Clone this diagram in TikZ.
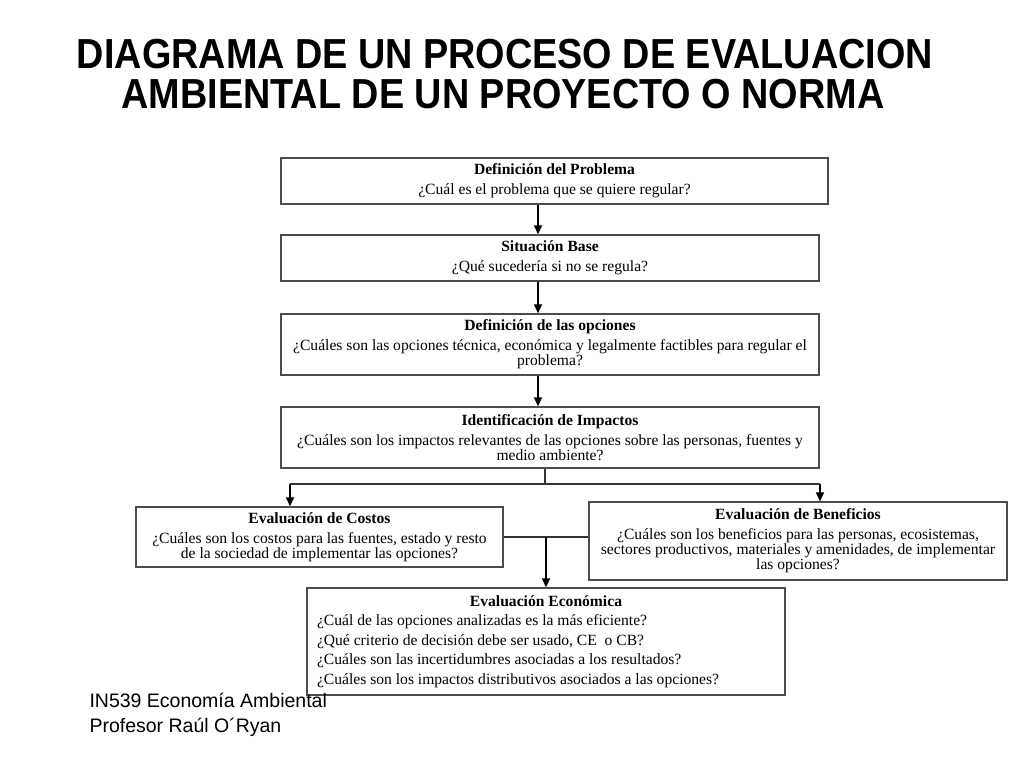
\documentclass[tikz,border=0pt]{standalone}
\usepackage{fontspec}
\setmainfont{Liberation Serif}
\newfontfamily\titlefont[FakeStretch=0.9]{Liberation Sans}
\newfontfamily\footfont{Liberation Sans}
\usetikzlibrary{arrows.meta}

\begin{document}
\begin{tikzpicture}[x=1pt,y=-1pt,
    box/.style={draw=black!70,line width=1.3pt,align=center,inner sep=0pt,
        font=\fontsize{15.6}{15}\selectfont},
    arr/.style={-{Triangle[width=8pt,length=9pt]},line width=1.3pt},
    link/.style={line width=1.1pt,draw=black!80}]
\useasboundingbox (0,0) rectangle (1024,768);

% title
\node[anchor=base,font=\titlefont\bfseries\fontsize{42}{42}\selectfont] (tit1) at (505,68)
    {DIAGRAMA DE UN PROCESO DE EVALUACION};
\node[anchor=base,font=\titlefont\bfseries\fontsize{42}{42}\selectfont] (tit2) at (503,108)
    {AMBIENTAL DE UN PROYECTO O NORMA};

% boxes
\node[box,minimum width=547,minimum height=46] (defprob) at (554.5,181)
    {\textbf{Definición del Problema}\\[5pt]¿Cuál es el problema que se quiere regular?};
\node[box,minimum width=538,minimum height=46] (sitbase) at (550,258)
    {\textbf{Situación Base}\\[5pt]¿Qué sucedería si no se regula?};
\node[box,minimum width=538,minimum height=61] (defopc) at (550,344.5)
    {\textbf{Definición de las opciones}\\[5pt]¿Cuáles son las opciones técnica, económica y legalmente factibles para regular el\\problema?};
\node[box,minimum width=538,minimum height=61] (identimp) at (550,437.5)
    {\textbf{Identificación de Impactos}\\[5pt]¿Cuáles son los impactos relevantes de las opciones sobre las personas, fuentes y\\medio ambiente?};
\node[box,minimum width=367,minimum height=60] (evalcost) at (319.5,537)
    {\textbf{Evaluación de Costos}\\[5pt]¿Cuáles son los costos para las fuentes, estado y resto\\de la sociedad de implementar las opciones?};
\node[box,minimum width=418,minimum height=78] (evalben) at (798,541)
    {\textbf{Evaluación de Beneficios}\\[5pt]¿Cuáles son los beneficios para las personas, ecosistemas,\\sectores productivos, materiales y amenidades, de implementar\\las opciones?};
\node[box,minimum width=478,minimum height=107,text width=458,inner xsep=10,align=flush left,
    font=\fontsize{15.6}{19.5}\selectfont] (evaleco) at (546,641.5)
    {\makebox[\linewidth]{\textbf{Evaluación Económica}}\\
     ¿Cuál de las opciones analizadas es la más eficiente?\\
     ¿Qué criterio de decisión debe ser usado, CE\ \ o CB?\\
     ¿Cuáles son las incertidumbres asociadas a los resultados?\\
     ¿Cuáles son los impactos distributivos asociados a las opciones?};

% connectors
\coordinate (ax) at (538,0);
\foreach \a/\b in {defprob/sitbase,sitbase/defopc,defopc/identimp}
    \draw[arr] (\a.south -| ax) -- (\b.north -| ax);

\coordinate (split) at (545,484);
\coordinate (costtop) at (290,484);
\coordinate (bentop) at (820,484);
\coordinate (join) at (546,537);
\draw[link] (identimp.south -| split) -- (split);
\draw[link] (costtop) -- (bentop);
\draw[arr] (costtop) -- (evalcost.north -| costtop);
\draw[arr] (bentop) -- (evalben.north -| bentop);
\draw[link] (evalcost.east) -- (evalben.west |- evalcost.east);
\draw[arr] (join) -- (evaleco.north -| join);

% footer
\node[anchor=base west,font=\footfont\fontsize{19.5}{25}\selectfont] (course) at (86,707)
    {IN539 Economía Ambiental};
\node[anchor=base west,font=\footfont\fontsize{19.5}{25}\selectfont] (prof) at (86,732)
    {Profesor Raúl O´Ryan};
\end{tikzpicture}
\end{document}
